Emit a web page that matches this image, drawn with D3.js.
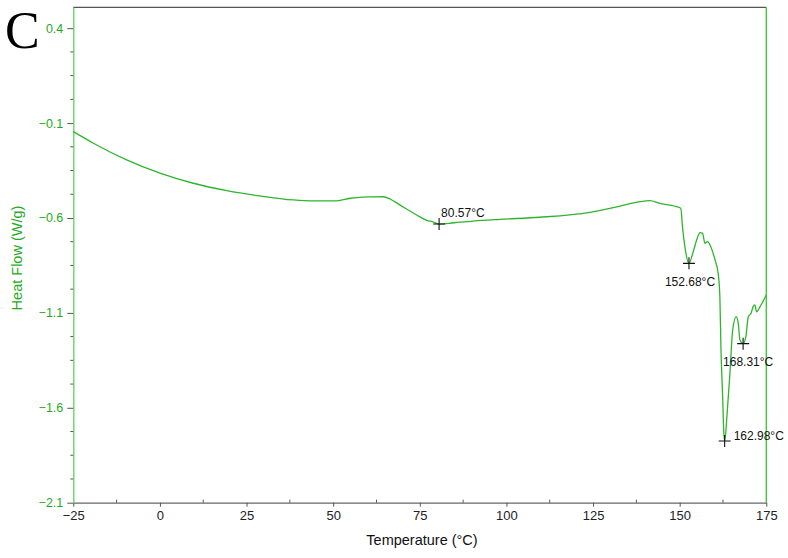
<!DOCTYPE html>
<html lang="en">
<head>
    <meta charset="UTF-8">
    <title>DSC - Heat Flow</title>
    <style>
        body {
            margin: 0;
            background: #fff;
            font-family: "Liberation Sans", Arial, sans-serif;
        }
        svg { display: block; }
    </style>
</head>
<body>
<svg width="788" height="558"></svg>

<script src="https://d3js.org/d3.v7.min.js"></script>
<script>
    // courbe DSC
    const temps = [-25, -19.2, -9.6, 0, 9.6, 19.3, 28.9, 38.5, 44.3, 51.0, 54.9, 57.7, 61, 64.5, 66.4, 69.3,
        74.1, 77.0, 78.8, 80.57, 84.9, 90.4, 98.2, 109.6, 124.1, 132.8, 138.55, 141.4, 144.3, 147.2, 149.1,
        150.3, 150.9, 151.5, 152.68, 153.9, 154.9, 155.9, 156.6, 157.3, 158.0, 158.75, 160.2, 161.1, 161.6,
        161.9, 162.4, 162.7, 162.98, 163.7, 164.5, 165.3, 166.3, 166.9, 167.4, 168.31, 169.1, 169.8, 170.6,
        171.2, 171.7, 172.2, 173.2, 174.0, 175];
    const heatFlow = [-0.145, -0.206, -0.294, -0.364, -0.417, -0.456, -0.484, -0.505, -0.510, -0.510, -0.496,
        -0.491, -0.489, -0.488, -0.500, -0.532, -0.584, -0.612, -0.620, -0.632, -0.625, -0.616, -0.607, -0.596,
        -0.570, -0.537, -0.514, -0.509, -0.523, -0.532, -0.540, -0.549, -0.663, -0.751, -0.839, -0.778, -0.716,
        -0.677, -0.681, -0.733, -0.725, -0.742, -0.821, -0.891, -1.015, -1.278, -1.542, -1.717, -1.775, -1.629,
        -1.418, -1.190, -1.120, -1.155, -1.243, -1.262, -1.225, -1.120, -1.102, -1.067, -1.058, -1.094, -1.067,
        -1.041, -1.006];

    const peakTemps = [80.57, 152.68, 162.98, 168.31];
    const peakValues = [-0.632, -0.839, -1.775, -1.262];
    const peakLabels = ["80.57°C", "152.68°C", "162.98°C", "168.31°C"];

    const xTicks = [-25, 0, 25, 50, 75, 100, 125, 150, 175];
    const yTicks = [-2.1, -1.6, -1.1, -0.6, -0.1, 0.4];

    const svg = d3.select("svg");
    const mLeft = 73.3, mRight = 766.3, mTop = 7.3, mBottom = 502.7;

    const x = d3.scaleLinear().domain([-25, 175]).range([mLeft, mRight]);
    const y = d3.scaleLinear().domain([-2.1, 0.51]).range([mBottom, mTop]);

    const green = "#2db52d";
    const tickGreen = "#1faa1f";

    // cadre : haut gris, droite verte
    svg.append("line")
        .attr("x1", mLeft).attr("x2", mRight).attr("y1", mTop).attr("y2", mTop)
        .attr("stroke", "#555").attr("stroke-width", 1.2);
    svg.append("line")
        .attr("x1", mRight).attr("x2", mRight).attr("y1", mTop).attr("y2", mBottom)
        .attr("stroke", "#3ccc3c").attr("stroke-width", 1.4);

    // axe X
    const xAxis = svg.append("g").attr("transform", `translate(0,${mBottom})`)
        .call(d3.axisBottom(x).tickValues(xTicks).tickSize(4).tickSizeOuter(0).tickFormat(d3.format("d")));
    xAxis.select(".domain").attr("stroke", "#666").attr("stroke-width", 1.2);
    xAxis.selectAll(".tick line").attr("stroke", "#555");
    xAxis.selectAll(".tick text")
        .attr("font-family", "Liberation Sans, Arial, sans-serif")
        .attr("font-size", 13).attr("fill", "#222").attr("dy", "0.95em").attr("y", 5);

    const xMinor = d3.range(-12.5, 175, 25);
    svg.append("g").selectAll("line").data(xMinor).join("line")
        .attr("x1", d => x(d)).attr("x2", d => x(d))
        .attr("y1", mBottom).attr("y2", mBottom - 3)
        .attr("stroke", "#555");

    // axe Y
    const yAxis = svg.append("g").attr("transform", `translate(${mLeft},0)`)
        .call(d3.axisLeft(y).tickValues(yTicks).tickSize(6).tickSizeOuter(0).tickFormat(d3.format(".1f")));
    yAxis.select(".domain").attr("stroke", "#66d966").attr("stroke-width", 1.4);
    yAxis.selectAll(".tick line").attr("stroke", "#555");
    yAxis.selectAll(".tick text")
        .attr("font-family", "Liberation Sans, Arial, sans-serif")
        .attr("font-size", 12.5).attr("fill", tickGreen).attr("x", -10);

    const yMinor = [];
    yTicks.slice(0, -1).forEach(t => {
        for (let k = 1; k < 4; k++) yMinor.push(t + k * 0.125);
    });
    svg.append("g").selectAll("line").data(yMinor).join("line")
        .attr("x1", mLeft - 3).attr("x2", mLeft)
        .attr("y1", d => y(d)).attr("y2", d => y(d))
        .attr("stroke", "#555");

    // titres
    svg.append("text")
        .attr("x", 422).attr("y", 545)
        .attr("text-anchor", "middle")
        .attr("font-size", 14.5).attr("fill", "#111")
        .text("Temperature (°C)");

    svg.append("text")
        .attr("transform", "translate(22,258) rotate(-90)")
        .attr("text-anchor", "middle")
        .attr("font-size", 14.5).attr("fill", tickGreen)
        .text("Heat Flow (W/g)");

    svg.append("text")
        .attr("x", 5).attr("y", 48)
        .attr("font-family", "Liberation Serif, Times New Roman, serif")
        .attr("font-size", 52).attr("fill", "#000")
        .text("C");

    // courbe
    const data = temps.map((t, i) => ({ t: t, v: heatFlow[i] }));
    const line = d3.line()
        .x(d => x(d.t))
        .y(d => y(d.v))
        .curve(d3.curveMonotoneX);

    svg.append("path")
        .datum(data)
        .attr("d", line)
        .attr("fill", "none")
        .attr("stroke", green)
        .attr("stroke-width", 1.3);

    // marqueurs +
    const peaks = peakTemps.map((t, i) => ({ t: t, v: peakValues[i], label: peakLabels[i] }));
    const markers = svg.append("g").selectAll("g").data(peaks).join("g")
        .attr("transform", d => `translate(${x(d.t)},${y(d.v)})`);

    markers.append("path")
        .attr("d", "M-6,0H6M0,-6V6")
        .attr("stroke", "#111").attr("stroke-width", 1.1);

    markers.append("text")
        .attr("font-size", 12).attr("fill", "#111")
        .each(function (d) {
            const t = d3.select(this).text(d.label);
            if (d.label === "80.57°C") {
                t.attr("x", 2).attr("y", -7);
            } else if (d.label === "162.98°C") {
                t.attr("x", 9).attr("y", -1);
            } else if (d.label === "152.68°C") {
                t.attr("x", 1).attr("y", 23).attr("text-anchor", "middle");
            } else {
                t.attr("x", 5).attr("y", 22).attr("text-anchor", "middle");
            }
        });
</script>
</body>
</html>
